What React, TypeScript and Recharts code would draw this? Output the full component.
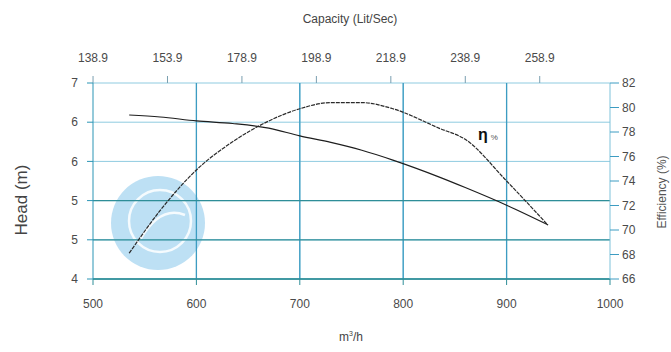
import { CartesianGrid, Line, LineChart, ReferenceLine, XAxis, YAxis } from "recharts";

// flow in m³/h, head in m, efficiency in %
const flow = [535, 565, 600, 635, 670, 700, 730, 760, 790, 835, 860, 900, 940];
const head = [6.51, 6.48, 6.42, 6.38, 6.31, 6.19, 6.09, 5.97, 5.82, 5.56, 5.4, 5.13, 4.83];
const efficiency = [68.1, 71.6, 74.9, 77.2, 78.9, 79.9, 80.4, 80.4, 79.9, 78.3, 77.4, 74.0, 70.4];

const flowTicks = [500, 600, 700, 800, 900, 1000];
// capacity in L/s, the top axis shares the flow scale (1 L/s = 3.6 m³/h)
const capacityTicks = [138.9, 158.9, 178.9, 198.9, 218.9, 238.9, 258.9];
const capacityLabels = ["138.9", "153.9", "178.9", "198.9", "218.9", "238.9", "258.9"];
const headTicks = [4, 4.6, 5.2, 5.8, 6.4, 7];
const headLabels = ["4", "5", "5", "6", "6", "7"];
const effTicks = [66, 68, 70, 72, 74, 76, 78, 80, 82];

const data = flow.map((q, i) => ({ flow: q, head: head[i], eff: efficiency[i] }));
const capacityAsFlow = capacityTicks.map((c) => c * 3.6);

const font = "'Liberation Sans', Arial, sans-serif";
const tick = { fill: "#4a4a4a", fontSize: 12, fontFamily: font };
const darkRows = [4, 4.6, 5.2];

export default function App() {
  return (
    <div style={{ position: "absolute", left: 0, top: 0, width: 671, height: 352, background: "#fff", fontFamily: font }}>
      {/* watermark behind the grid */}
      <svg width={671} height={352} style={{ position: "absolute", left: 0, top: 0 }}>
        <circle cx={158} cy={223} r={47} fill="#bde0f4" />
        <circle cx={160} cy={221} r={31} fill="none" stroke="#fff" strokeWidth={2.5} opacity={0.85} />
        <path d="M 140 240 Q 160 205 185 215" fill="none" stroke="#fff" strokeWidth={2.5} opacity={0.85} />
      </svg>
      <div style={{ position: "absolute", left: 0, top: 0 }}>
        <LineChart width={671} height={352} data={data} margin={{ top: 0, right: 0, bottom: 0, left: 0 }}>
          <CartesianGrid xAxisId="bottom" yAxisId="head" stroke="#8fcbe0" horizontalValues={headTicks} verticalValues={[600, 700, 800, 900]} />
          {flowTicks.slice(1, 5).map((v) => (
            <ReferenceLine key={v} xAxisId="bottom" yAxisId="head" x={v} stroke="#3d9cc2" strokeWidth={1.3} />
          ))}
          {darkRows.map((v) => (
            <ReferenceLine key={v} xAxisId="bottom" yAxisId="head" y={v} stroke="#2f8e98" strokeWidth={1.3} />
          ))}
          <XAxis
            xAxisId="bottom"
            dataKey="flow"
            type="number"
            domain={[500, 1000]}
            ticks={flowTicks}
            height={73}
            tick={tick}
            tickSize={6}
            tickMargin={14}
            stroke="#2f8e98"
            tickLine={{ stroke: "#2f8e98" }}
          />
          <XAxis
            xAxisId="top"
            dataKey="flow"
            orientation="top"
            type="number"
            domain={[500, 1000]}
            ticks={capacityAsFlow}
            height={83}
            tick={tick}
            tickSize={7}
            tickMargin={14}
            axisLine={false}
            tickLine={{ stroke: "#7a9fb0" }}
            tickFormatter={(v) => capacityLabels[capacityAsFlow.indexOf(v)] ?? ""}
          />
          <YAxis
            yAxisId="head"
            type="number"
            domain={[4, 7]}
            ticks={headTicks}
            width={93}
            tick={tick}
            tickSize={6}
            tickMargin={9}
            stroke="#2b95b5"
            tickFormatter={(v) => headLabels[headTicks.indexOf(v)] ?? ""}
          />
          <YAxis
            yAxisId="eff"
            orientation="right"
            type="number"
            domain={[66, 82]}
            ticks={effTicks}
            width={61}
            tick={tick}
            tickSize={9}
            tickMargin={3}
            stroke="#7ec2da"
            tickLine={{ stroke: "#3d9cc2" }}
          />
          <Line xAxisId="top" yAxisId="head" type="monotone" dataKey="head" stroke="#1e1e1e" strokeWidth={1.2} dot={false} isAnimationActive={false} />
          <Line xAxisId="bottom" yAxisId="eff" type="monotone" dataKey="eff" stroke="#2a2a2a" strokeWidth={1.2} strokeDasharray="4 1" dot={false} isAnimationActive={false} />
        </LineChart>
      </div>
      <div style={{ position: "absolute", left: 290, top: 12, width: 120, textAlign: "center", fontSize: 12, color: "#444" }}>Capacity (Lit/Sec)</div>
      <div style={{ position: "absolute", left: 301, top: 330, width: 100, textAlign: "center", fontSize: 12, color: "#444" }}>
        m<sup style={{ fontSize: 7 }}>3</sup>/h
      </div>
      <div style={{ position: "absolute", left: 22, top: 200, transform: "translate(-50%, -50%) rotate(-90deg)", whiteSpace: "nowrap", fontSize: 17, color: "#444" }}>Head (m)</div>
      <div style={{ position: "absolute", left: 662, top: 192, transform: "translate(-50%, -50%) rotate(-90deg)", whiteSpace: "nowrap", fontSize: 12, color: "#555" }}>Efficiency (%)</div>
      <div style={{ position: "absolute", left: 478, top: 126, fontSize: 16, fontWeight: "bold", color: "#111" }}>
        η<span style={{ fontSize: 8, fontWeight: "normal", color: "#555", marginLeft: 3 }}>%</span>
      </div>
    </div>
  );
}
